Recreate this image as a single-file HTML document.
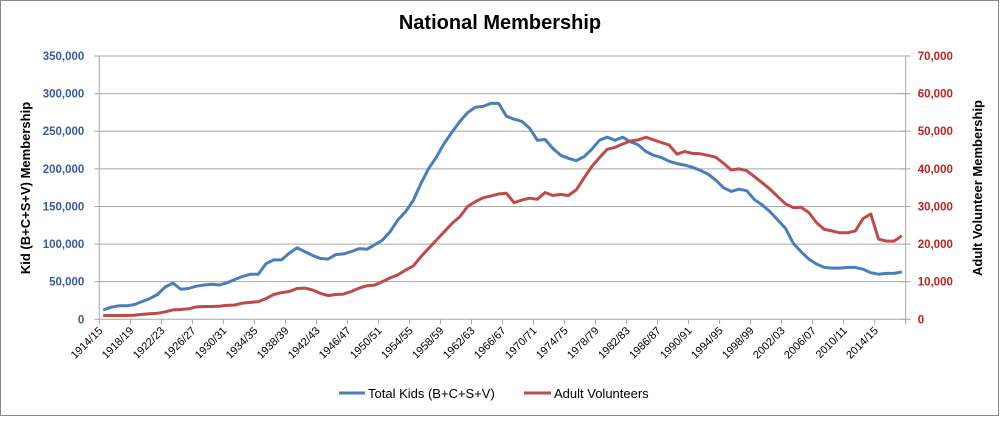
<!DOCTYPE html>
<html><head><meta charset="utf-8"><style>
body{margin:0;background:#fff;}
svg text{font-family:"Liberation Sans",sans-serif;}
</style></head><body>
<svg id="chart" width="1000" height="417" viewBox="0 0 1000 417" xmlns="http://www.w3.org/2000/svg">
<rect x="0.5" y="0.5" width="998" height="415" fill="#fff" stroke="#888"/>
<text x="500" y="29" text-anchor="middle" font-size="20" font-weight="bold" fill="#000">National Membership</text>
<g id="grid"></g><g id="axes"></g><g id="series"></g>
<text transform="translate(30,188) rotate(-90)" text-anchor="middle" font-size="13" font-weight="bold" fill="#000">Kid (B+C+S+V) Membership</text>
<text transform="translate(982,188) rotate(-90)" text-anchor="middle" font-size="13" font-weight="bold" fill="#000">Adult Volunteer Membership</text>
<g>
<line x1="339" y1="393" x2="365" y2="393" stroke="#4a7ebb" stroke-width="3"/>
<text x="368" y="398" font-size="13" fill="#000">Total Kids (B+C+S+V)</text>
<line x1="524" y1="393" x2="551" y2="393" stroke="#be4b48" stroke-width="3"/>
<text x="554" y="398" font-size="13" fill="#000">Adult Volunteers</text>
</g>
</svg>
<script>
const kids=[12.4,16,18,18,19.5,23.5,27.5,33,43,48,40,41,44,45.6,46.5,45.6,48.7,53,57,60,60,74,79,79,88,95,90,85,81,80,86,87,90,94,93,99,105,116.5,132,143,158,181,200.7,216,234,249,263,274.7,282,283,287,287,270,266,263,254,238,239,227,218,214,211,216,226,238,242,238,242,236,232,223,218,215,210,207,205,202,198,193,185,175,170,173,171,159,152,143,132,121,101,90,80,73.5,69,68,68,69,69,66.5,62,60,61,61,63];
const adults=[1,1,1,1,1.1,1.3,1.5,1.6,2,2.5,2.6,2.8,3.3,3.4,3.4,3.5,3.7,3.8,4.3,4.5,4.7,5.5,6.6,7.1,7.4,8.2,8.3,7.8,6.9,6.3,6.6,6.7,7.4,8.3,8.9,9.1,10,11,11.8,13.1,14.2,16.7,18.9,21.1,23.3,25.5,27.3,30,31.3,32.3,32.8,33.3,33.5,31,31.7,32.2,31.9,33.7,32.9,33.2,32.9,34.4,37.5,40.6,43,45.2,45.7,46.6,47.4,47.7,48.4,47.7,47,46.3,43.9,44.6,44.1,44,43.6,43.1,41.5,39.7,40,39.5,37.9,36.3,34.6,32.6,30.7,29.7,29.8,28.4,25.7,23.9,23.5,23,23,23.5,26.8,28,21.3,20.8,20.8,22.2];
const leftTicks=["0","50,000","100,000","150,000","200,000","250,000","300,000","350,000"];
const rightTicks=["0","10,000","20,000","30,000","40,000","50,000","60,000","70,000"];
const startYear=1914;
const NS="http://www.w3.org/2000/svg";
const X0=99.3,X1=905.7,Y0=319.3,Y1=56;
const n=kids.length, cw=(X1-X0)/n;
const xc=i=>X0+cw*(i+0.5);
const xb=i=>X0+cw*i;
const yL=v=>Y0-(v/350)*(Y0-Y1);
const yR=v=>Y0-(v/70)*(Y0-Y1);
function mk(tag,attrs,parent,txt){const e=document.createElementNS(NS,tag);for(const k in attrs)e.setAttribute(k,attrs[k]);if(txt!==undefined)e.textContent=txt;parent.appendChild(e);return e;}
const grid=document.getElementById('grid'),axes=document.getElementById('axes'),ser=document.getElementById('series');
for(let k=0;k<leftTicks.length;k++){
  const y=yL(k*50);
  if(k>0){const g=mk('line',{x1:X0,x2:X1,y1:y,y2:y,stroke:'#a6a6a6','stroke-width':1},grid);
  
  }
  const t1=mk('line',{x1:X0-5,x2:X0,y1:y,y2:y,stroke:'#a6a6a6'},axes);
  
  
  const t2=mk('line',{x1:X1-5,x2:X1+5,y1:y,y2:y,stroke:'#a6a6a6'},axes);
  
  
  const l=mk('text',{x:X0-15,y:y+4,'text-anchor':'end','font-size':11.5,'font-weight':600,fill:'#3c5a9a'},axes,leftTicks[k]);
  
  
  const r=mk('text',{x:X1+12,y:y+4,'text-anchor':'start','font-size':11.5,'font-weight':600,fill:'#c0201e'},axes,rightTicks[k]);
  
  
}
const ax=mk('line',{x1:X0,x2:X0,y1:Y1,y2:Y0,stroke:'#a6a6a6'},axes);


const ax2=mk('line',{x1:X1,x2:X1,y1:Y1,y2:Y0,stroke:'#a6a6a6'},axes);


const ax3=mk('line',{x1:X0,x2:X1,y1:Y0,y2:Y0,stroke:'#a6a6a6'},axes);


for(let i=0;i<=n;i+=4){
  const x=xb(i);
  const t=mk('line',{x1:x,x2:x,y1:Y0,y2:Y0+5,stroke:'#a6a6a6'},axes);
  
  
  if(i<n){
    const yr=startYear+i;
    const lab=yr+'/'+String((yr+1)%100).padStart(2,'0');
    const tx=mk('text',{transform:`translate(${x+4},${Y0+12}) rotate(-45)`,'text-anchor':'end','font-size':11,fill:'#000'},axes,lab);
    
    
  }
}
function line(arr,yf,color,name){
  const d=arr.map((v,i)=>(i?'L':'M')+xc(i).toFixed(1)+','+yf(v).toFixed(1)).join('');
  const p=mk('path',{d:d,fill:'none',stroke:color,'stroke-width':3,'stroke-linejoin':'round'},ser);
  
  
}
line(kids,yL,'#4a7ebb','kids-line');
line(adults,yR,'#be4b48','adults-line');
</script>
</body></html>
